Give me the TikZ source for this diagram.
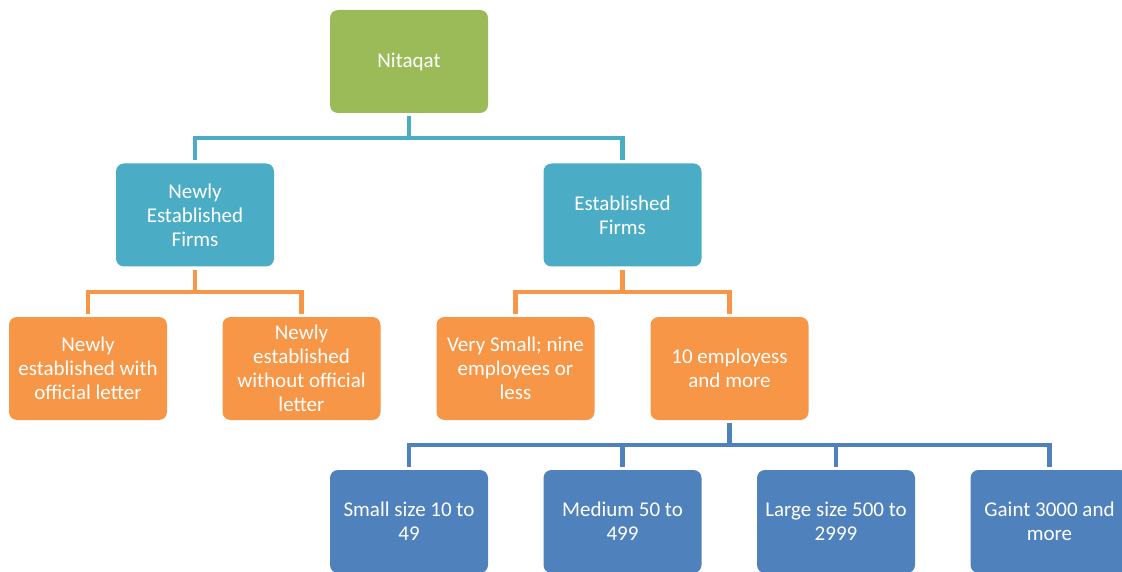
\documentclass[tikz,border=0pt]{standalone}
\usepackage{fontspec}
\setmainfont{Carlito}
\usetikzlibrary{calc}
\definecolor{cgreen}{HTML}{9BBB59}
\definecolor{cteal}{HTML}{4BACC6}
\definecolor{corange}{HTML}{F79646}
\definecolor{cblue}{HTML}{4F81BD}
\begin{document}
\begin{tikzpicture}[x=1pt,y=-1pt,
  box/.style={rounded corners=8pt, minimum width=158pt, minimum height=103pt,
    text=white, align=center, inner sep=2pt,
    font=\fontsize{21}{24}\selectfont},
  conn/.style={line width=4.5pt}]
\useasboundingbox (0,0) rectangle (1122,572);
\clip (0,0) rectangle (1122,572);
% nodes
\node[box, fill=cgreen] (nit) at (409,61.5) {Nitaqat};
\node[box, fill=cteal] (new) at (195,215) {Newly\\Established\\Firms};
\node[box, fill=cteal] (est) at (622.5,215) {Established\\Firms};
\node[box, fill=corange] (nwl) at (88,368.5) {Newly\\established with\\official letter};
\node[box, fill=corange] (nwo) at (301.5,368.5) {Newly\\established\\without official\\letter};
\node[box, fill=corange] (vs) at (515.5,368.5) {Very Small; nine\\employees or\\less};
\node[box, fill=corange] (ten) at (729.5,368.5) {10 employess\\and more};
\node[box, fill=cblue] (sm) at (409,521.5) {Small size 10 to\\49};
\node[box, fill=cblue] (me) at (622.5,521.5) {Medium 50 to\\499};
\node[box, fill=cblue] (la) at (836,521.5) {Large size 500 to\\2999};
\node[box, fill=cblue] (ga) at (1049.5,521.5) {Gaint 3000 and\\more};
% junctions
\coordinate (j1) at (409,138);
\coordinate (j2) at (195,292);
\coordinate (j3) at (622.5,292);
\coordinate (j4) at (729.5,445);
% connectors
\draw[conn, cteal] ([yshift=-3pt]nit.south) -- (j1);
\draw[conn, cteal] (j1) -| ([yshift=3pt]new.north);
\draw[conn, cteal] (j1) -| ([yshift=3pt]est.north);
\draw[conn, corange] ([yshift=-3pt]new.south) -- (j2);
\draw[conn, corange] (j2) -| ([yshift=3pt]nwl.north);
\draw[conn, corange] (j2) -| ([yshift=3pt]nwo.north);
\draw[conn, corange] ([yshift=-3pt]est.south) -- (j3);
\draw[conn, corange] (j3) -| ([yshift=3pt]vs.north);
\draw[conn, corange] (j3) -| ([yshift=3pt]ten.north);
\draw[conn, cblue] ([yshift=-3pt]ten.south) -- (j4);
\draw[conn, cblue] (j4) -| ([yshift=3pt]sm.north);
\draw[conn, cblue] (j4) -| ([yshift=3pt]me.north);
\draw[conn, cblue] (j4) -| ([yshift=3pt]la.north);
\draw[conn, cblue] (j4) -| ([yshift=3pt]ga.north);
\end{tikzpicture}
\end{document}
